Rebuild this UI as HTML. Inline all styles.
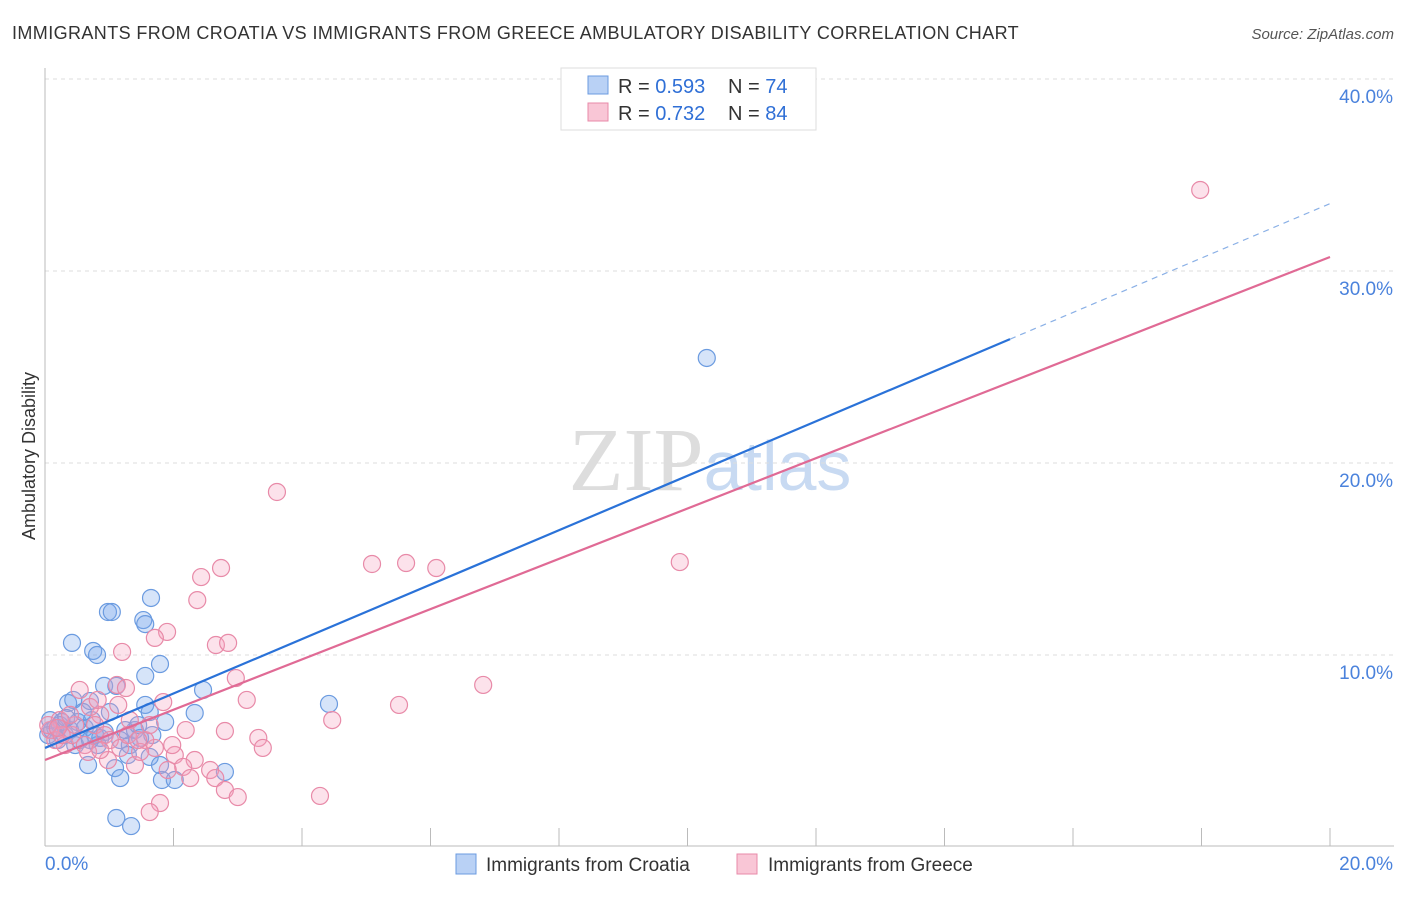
<!DOCTYPE html>
<html><head><meta charset="utf-8"><style>
body{margin:0;background:#fff;font-family:"Liberation Sans",sans-serif}
#c{position:relative;width:1406px;height:892px}
</style></head><body>
<div id="c">
<svg id="s" width="1406" height="892" xmlns="http://www.w3.org/2000/svg">
<text x="12" y="39" font-size="18" fill="#333" letter-spacing="0.4">IMMIGRANTS FROM CROATIA VS IMMIGRANTS FROM GREECE AMBULATORY DISABILITY CORRELATION CHART</text>
<text x="1394" y="39" font-size="15" fill="#555" text-anchor="end" font-style="italic">Source: ZipAtlas.com</text>
<text x="35" y="456" font-size="18" fill="#333" text-anchor="middle" transform="rotate(-90 35 456)">Ambulatory Disability</text>
<text x="710" y="490" font-size="90" fill="#ddd" text-anchor="middle" font-family="Liberation Serif,serif">ZIP<tspan fill="#c8daf2" font-family="Liberation Sans,sans-serif" font-size="70">atlas</tspan></text>
<g id="grid"></g><g id="pts"></g><g id="lines"></g>
<g>
<rect x="561" y="68" width="255" height="62" fill="#fff" stroke="#ddd"/>
<rect x="588" y="76" width="20" height="18" fill="#b9d1f5" stroke="#6b9be0"/>
<rect x="588" y="103" width="20" height="18" fill="#f9c6d6" stroke="#e88aa8"/>
<text x="618" y="93" font-size="20" fill="#333">R = <tspan fill="#2f6fd6">0.593</tspan></text>
<text x="728" y="93" font-size="20" fill="#333">N = <tspan fill="#2f6fd6">74</tspan></text>
<text x="618" y="120" font-size="20" fill="#333">R = <tspan fill="#2f6fd6">0.732</tspan></text>
<text x="728" y="120" font-size="20" fill="#333">N = <tspan fill="#2f6fd6">84</tspan></text>
</g>
<g>
<rect x="456" y="854" width="20" height="20" fill="#b9d1f5" stroke="#6b9be0"/>
<text x="486" y="871" font-size="19" fill="#333">Immigrants from Croatia</text>
<rect x="737" y="854" width="20" height="20" fill="#f9c6d6" stroke="#e88aa8"/>
<text x="768" y="871" font-size="19" fill="#333">Immigrants from Greece</text>
</g>
</svg></div>
<script>
const yTicks=[10,20,30,40];
const yTickLabels=["10.0%","20.0%","30.0%","40.0%"];
const xTickLabels=["0.0%","20.0%"];
const blueX=[0.42,0.98,1.04,1.65,1.53,1.56,0.75,0.81,1.79,1.56,0.92,1.11,0.36,0.44,0.70,1.56,2.46,2.33,1.63,1.87,1.01,1.17,1.32,1.29,1.09,1.17,1.82,2.02,2.80,1.11,1.34,4.42,10.30,0.08,0.16,0.23,0.31,0.39,0.47,0.54,0.62,0.67,0.78,0.86,0.20,0.05,0.26,0.51,0.73,0.93,1.40,1.48,1.67,0.82,0.59,1.63,1.25,1.79,1.45,0.11,0.33,0.70];
const blueY=[10.63,12.24,12.24,12.97,11.82,11.61,10.21,10.0,9.53,8.91,8.39,8.39,7.5,7.66,7.60,7.40,8.18,6.98,7.03,6.51,7.03,5.57,5.31,4.79,4.11,3.59,3.49,3.49,3.91,1.51,1.09,7.45,25.47,6.61,6.20,6.35,5.83,6.09,5.31,5.57,6.20,4.27,5.83,5.68,5.57,5.83,6.51,6.51,6.61,5.99,6.09,5.68,5.83,5.31,7.03,4.69,6.09,4.27,6.35,6.09,6.72,5.57];
const pinkX=[17.98,3.61,5.09,5.62,6.09,9.88,2.74,2.43,2.37,1.90,1.71,2.66,2.85,1.20,2.97,1.12,1.26,6.82,3.14,1.84,2.19,4.47,5.51,2.80,3.32,3.39,1.71,2.02,2.33,2.15,2.57,2.65,2.80,3.00,4.28,1.79,1.63,1.40,1.56,0.86,0.70,0.54,0.23,0.08,0.16,0.31,0.42,0.62,0.78,0.93,1.01,1.32,1.48,1.17,0.98,0.67,0.47,0.26,0.05,0.82,1.14,1.29,1.63,1.91,1.98,2.26,1.45,0.86,0.39,0.20];
const pinkY=[34.22,18.49,14.74,14.79,14.53,14.84,14.53,14.06,12.86,11.20,10.89,10.52,10.63,10.16,8.80,8.44,8.28,8.44,7.66,7.55,6.09,6.61,7.40,6.04,5.68,5.16,5.16,4.79,4.53,4.17,4.01,3.59,2.97,2.60,2.66,2.29,1.82,4.27,5.57,6.88,7.29,8.18,6.61,6.09,5.57,5.31,5.83,5.31,6.35,5.83,5.57,6.61,4.95,5.16,4.53,4.95,6.35,5.83,6.35,7.66,7.40,5.83,6.35,4.01,5.31,3.59,5.57,5.05,6.88,6.20];
const blueFit=[5.16,1.4175]; const blueSolidEnd=15.02;
const pinkFit=[4.53,1.31];
const X=v=>45+v/20*1285, Y=v=>847-v*19.2;
const NS="http://www.w3.org/2000/svg";
function mk(p,t,a){const e=document.createElementNS(NS,t);for(const k in a)e.setAttribute(k,a[k]);p.appendChild(e);return e;}
const g=document.getElementById('grid');
yTicks.forEach((t,i)=>{
 const l=mk(g,'line',{x1:45,x2:1394,y1:Y(t),y2:Y(t),stroke:'#ddd','stroke-dasharray':'4,4'});
 
 
 const tx=mk(g,'text',{x:1393,y:Y(t)+24,'font-size':19,fill:'#4a82dc','text-anchor':'end'});tx.textContent=yTickLabels[i];
 
 
});
mk(g,'line',{x1:45,x2:45,y1:68,y2:846,stroke:'#bbb'});
mk(g,'line',{x1:45,x2:1394,y1:846,y2:846,stroke:'#bbb'});
for(let i=0;i<=10;i++){const t=mk(g,'line',{x1:X(i*2),x2:X(i*2),y1:828,y2:846,stroke:'#bbb'});
 
 }
const xl0=mk(g,'text',{x:45,y:870,'font-size':19,fill:'#4a82dc'});xl0.textContent=xTickLabels[0];


const xl1=mk(g,'text',{x:1393,y:870,'font-size':19,fill:'#4a82dc','text-anchor':'end'});xl1.textContent=xTickLabels[1];


const pg=document.getElementById('pts');
blueX.forEach((x,i)=>{const c=mk(pg,'circle',{cx:X(x),cy:Y(blueY[i]),r:8.5,fill:'rgba(120,165,235,0.3)',stroke:'#6b9be0','stroke-width':1.2});
 
 });
pinkX.forEach((x,i)=>{const c=mk(pg,'circle',{cx:X(x),cy:Y(pinkY[i]),r:8.5,fill:'rgba(245,160,190,0.3)',stroke:'#e88aa8','stroke-width':1.2});
 
 });
const lg=document.getElementById('lines');
const f=(fit,x)=>fit[0]+fit[1]*x;
let l1=mk(lg,'line',{x1:X(0),y1:Y(f(blueFit,0)),x2:X(blueSolidEnd),y2:Y(f(blueFit,blueSolidEnd)),stroke:'#2a72d8','stroke-width':2.2});


let l2=mk(lg,'line',{x1:X(blueSolidEnd),y1:Y(f(blueFit,blueSolidEnd)),x2:X(20),y2:Y(f(blueFit,20)),stroke:'#8ab0e6','stroke-width':1.2,'stroke-dasharray':'6,5'});


let l3=mk(lg,'line',{x1:X(0),y1:Y(f(pinkFit,0)),x2:X(20),y2:Y(f(pinkFit,20)),stroke:'#e06a95','stroke-width':2.2});


</script>
</body></html>
